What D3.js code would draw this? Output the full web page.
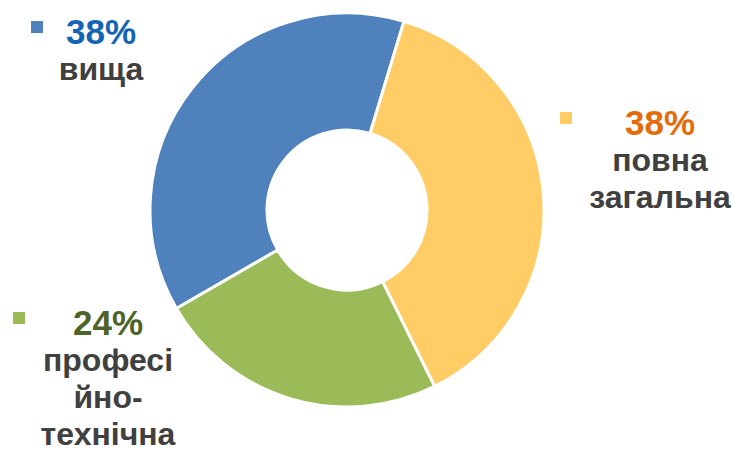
<!DOCTYPE html>
<html><head><meta charset="utf-8">
<script src="https://cdn.jsdelivr.net/npm/d3@7"></script>
<style>
html,body{margin:0;padding:0;background:#fff;}
svg{display:block;font-family:"Liberation Sans",Arial,sans-serif;font-weight:bold;}
</style></head>
<body>
<svg id="c" width="732" height="451"></svg>
<script>
const categories = ["вища", "повна загальна", "професійно-технічна"];
const values = [38, 38, 24];
const pctLabels = ["38%", "38%", "24%"];
const labelLines = [["вища"], ["повна", "загальна"], ["професі", "йно-", "технічна"]];

const sliceColors = ["#4F81BD", "#FFCC66", "#9BBB59"];
const pctColors = ["#1464B4", "#E46C0A", "#4F6228"];
const labelLayout = [
  {x: 101, y: 44, mx: 31, my: 21},
  {x: 660, y: 135, mx: 560, my: 112},
  {x: 108, y: 335, mx: 13, my: 312}
];

const svg = d3.select("#c");
const cx = 347, cy = 210, rOuter = 197, rInner = 80;
const start = -120 * Math.PI / 180;
const pie = d3.pie().sort(null).value(d => d).startAngle(start).endAngle(start + 2 * Math.PI);
const arc = d3.arc().innerRadius(rInner).outerRadius(rOuter);
const g = svg.append("g").attr("transform", `translate(${cx},${cy})`);
g.selectAll("path").data(pie(values)).join("path")
  .attr("d", arc)
  .attr("fill", (d, i) => sliceColors[i])
  .attr("stroke", "#fff").attr("stroke-width", 3).attr("stroke-linejoin", "round");

const lg = svg.append("g");
categories.forEach((c, i) => {
  const L = labelLayout[i];
  lg.append("rect").attr("x", L.mx).attr("y", L.my).attr("width", 12).attr("height", 12).attr("fill", sliceColors[i]);
  lg.append("text").attr("x", L.x).attr("y", L.y).attr("text-anchor", "middle")
    .attr("font-size", 35).attr("fill", pctColors[i]).text(pctLabels[i]);
  labelLines[i].forEach((t, j) => {
    lg.append("text").attr("x", L.x).attr("y", L.y + 36 + j * 37).attr("text-anchor", "middle")
      .attr("font-size", 32).attr("fill", "#404040").text(t);
  });
});
</script>
</body></html>
